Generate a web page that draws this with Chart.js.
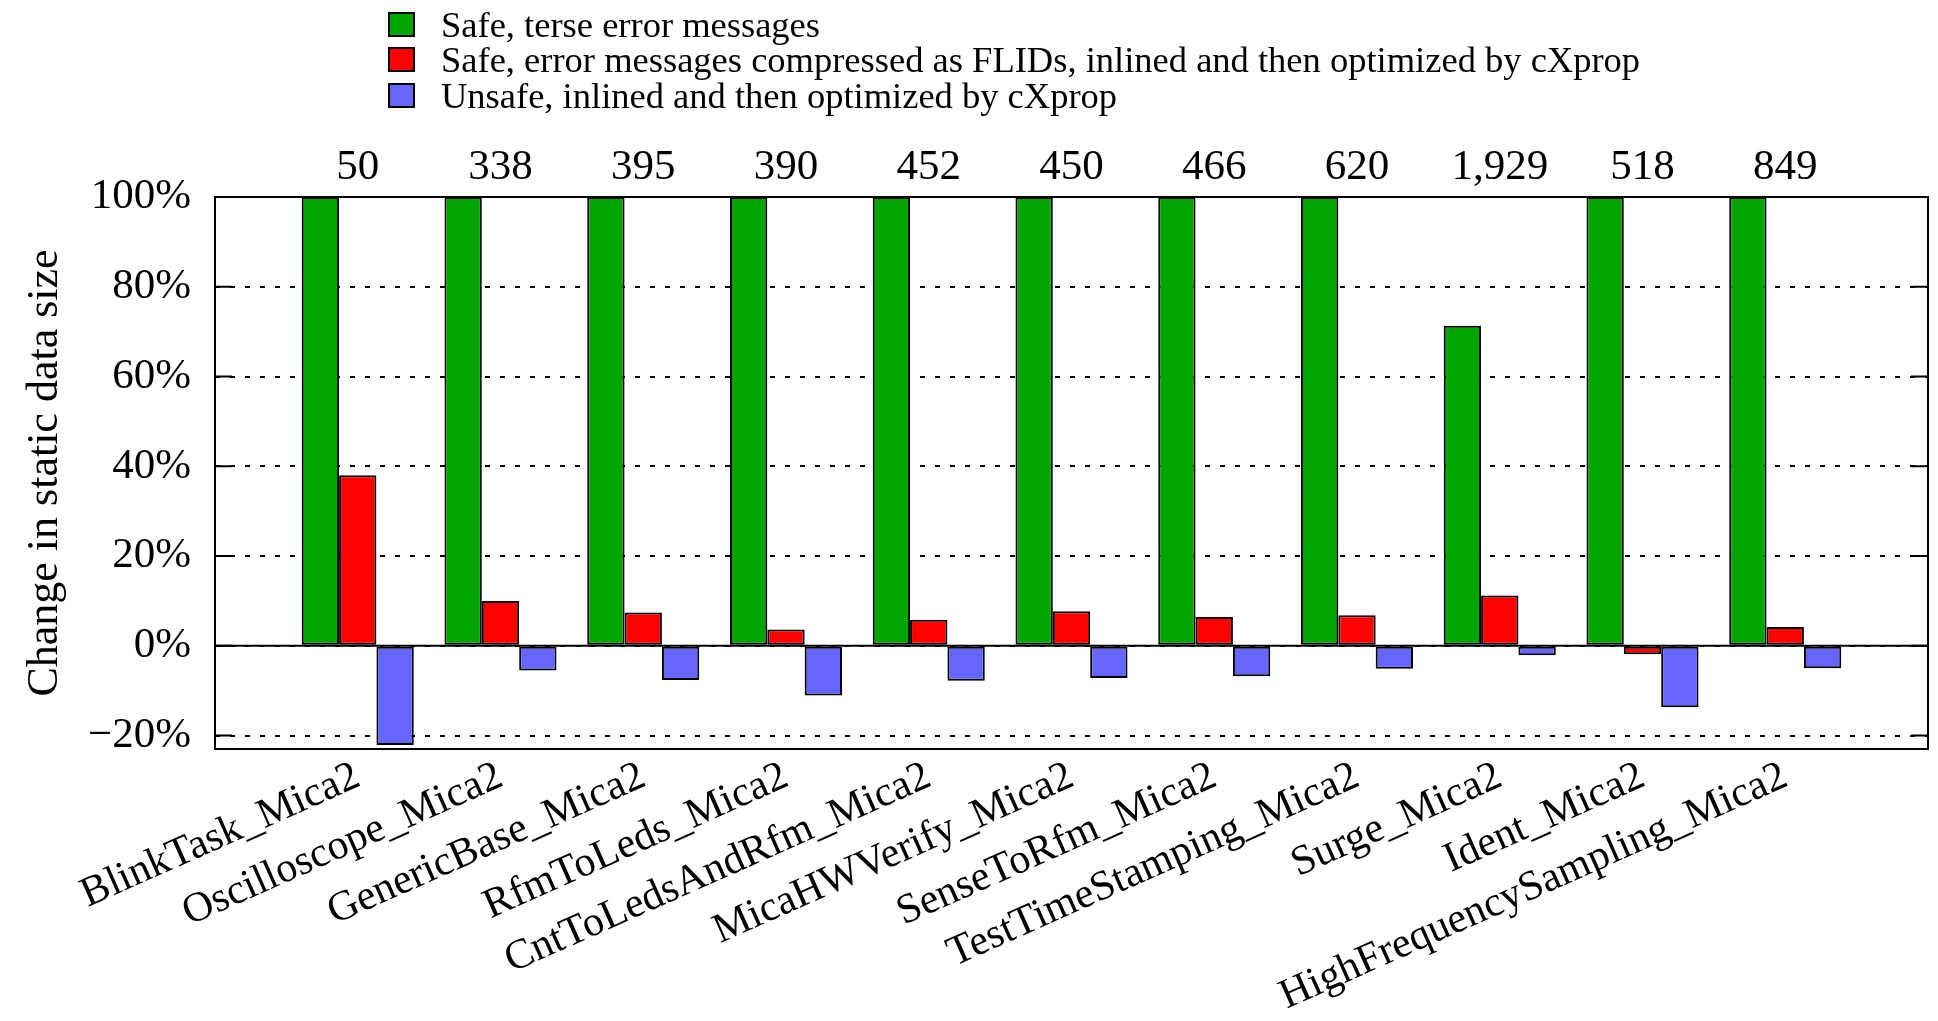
<!DOCTYPE html>
<html>
<head>
<meta charset="utf-8">
<title>Change in static data size</title>
<script src="https://cdn.jsdelivr.net/npm/chart.js@4.4.1/dist/chart.umd.min.js"></script>
<style>
    html, body { margin: 0; padding: 0; background: #fff; }
    .wrap { position: relative; width: 1938px; height: 1021px; }
    #legend {
        position: absolute; left: 388px; top: 7px;
        font-family: "Liberation Serif", "DejaVu Serif", serif;
        font-size: 36.5px; color: #000;
    }
    #legend .item { display: flex; align-items: center; height: 35.3px; white-space: nowrap; }
    #legend .box { width: 27px; height: 25px; border: 2px solid #000; box-sizing: border-box; margin-right: 26px; }
</style>
</head>
<body>
<div class="wrap">
    <canvas id="chart"></canvas>
    <div id="legend"></div>
</div>
<script>
// Data
const categories = ['BlinkTask_Mica2', 'Oscilloscope_Mica2', 'GenericBase_Mica2', 'RfmToLeds_Mica2',
    'CntToLedsAndRfm_Mica2', 'MicaHWVerify_Mica2', 'SenseToRfm_Mica2', 'TestTimeStamping_Mica2',
    'Surge_Mica2', 'Ident_Mica2', 'HighFrequencySampling_Mica2'];
const baseSizes = ['50', '338', '395', '390', '452', '450', '466', '620', '1,929', '518', '849'];
const safeTerse = [100, 100, 100, 100, 100, 100, 100, 100, 71.3, 100, 100];
const safeFlids = [38.0, 10.0, 7.4, 3.6, 5.8, 7.7, 6.4, 6.8, 11.2, -1.9, 4.2];
const unsafeCxprop = [-22.1, -5.5, -7.6, -11.1, -7.8, -7.2, -6.8, -5.1, -2.1, -13.7, -5.0];
const yTicks = [-20, 0, 20, 40, 60, 80, 100];

const seriesNames = [
    'Safe, terse error messages',
    'Safe, error messages compressed as FLIDs, inlined and then optimized by cXprop',
    'Unsafe, inlined and then optimized by cXprop'
];
const seriesColors = ['#00a500', '#ff0000', '#6666ff'];

// one empty slot on each side, like gnuplot's xrange [-1:11]
const pad = arr => [null, ...arr, null];
const FONT = '"Liberation Serif", "DejaVu Serif", serif';

Chart.defaults.font.family = FONT;
Chart.defaults.color = '#000';

// solid zero line, inner ticks and frame
const frame = {
    id: 'frame',
    beforeDatasetsDraw(chart) {
        const { ctx, chartArea: a, scales: { y } } = chart;
        const y0 = y.getPixelForValue(0);
        ctx.save();
        ctx.strokeStyle = '#000';
        ctx.lineWidth = 2;
        ctx.beginPath();
        ctx.moveTo(a.left, y0);
        ctx.lineTo(a.right, y0);
        ctx.stroke();
        ctx.restore();
    },
    afterDatasetsDraw(chart) {
        const { ctx, chartArea: a, scales: { y } } = chart;
        ctx.save();
        ctx.strokeStyle = '#000';
        ctx.lineWidth = 2;
        y.ticks.forEach(t => {
            const py = y.getPixelForValue(t.value);
            ctx.beginPath();
            ctx.moveTo(a.left, py);
            ctx.lineTo(a.left + 17, py);
            ctx.moveTo(a.right - 17, py);
            ctx.lineTo(a.right, py);
            ctx.stroke();
        });
        ctx.strokeRect(a.left, a.top, a.right - a.left, a.bottom - a.top);
        ctx.restore();
    }
};

const datasets = [safeTerse, safeFlids, unsafeCxprop].map((vals, i) => ({
    label: seriesNames[i],
    data: pad(vals),
    backgroundColor: seriesColors[i],
    borderColor: '#000',
    borderWidth: 2,
    borderSkipped: false,
    categoryPercentage: 0.785,
    barPercentage: 1.0
}));

const fixX = h => s => {
    s.height = h;
    s.paddingLeft = 0;
    s.paddingRight = 0;
};

const chart = new Chart(document.getElementById('chart'), {
    type: 'bar',
    data: { labels: pad(categories).map(c => c || ''), datasets },
    options: {
        responsive: true,
        maintainAspectRatio: false,
        animation: false,
        layout: { padding: { left: 0, right: 10, top: 0, bottom: 0 } },
        plugins: {
            legend: { display: false },
            tooltip: { enabled: false }
        },
        scales: {
            x: {
                type: 'category',
                position: 'bottom',
                offset: false,
                grid: { display: false },
                border: { display: false },
                ticks: {
                    autoSkip: false,
                    minRotation: 24,
                    maxRotation: 24,
                    padding: 12,
                    font: { size: 42, lineHeight: 0.3 }
                },
                afterFit: fixX(272)
            },
            x2: {
                type: 'category',
                position: 'top',
                labels: pad(baseSizes).map(c => c || ''),
                offset: false,
                grid: { display: false },
                border: { display: false },
                ticks: { autoSkip: false, maxRotation: 0, padding: 0, font: { size: 43, lineHeight: 1.0 } },
                afterFit: fixX(197)
            },
            y: {
                min: -23,
                max: 100,
                afterBuildTicks: s => { s.ticks = yTicks.map(v => ({ value: v })); },
                grid: { color: '#000', lineWidth: 2, drawTicks: false },
                border: { display: false, dash: [5, 10] },
                ticks: {
                    padding: 24,
                    font: { size: 43 },
                    callback: v => (v < 0 ? '\u2212' : '') + Math.abs(v) + '%'
                },
                title: {
                    display: true,
                    text: 'Change in static data size',
                    font: { size: 44 },
                    padding: { top: 19, bottom: 0 }
                },
                afterFit: s => { s.width = 215; }
            }
        }
    },
    plugins: [frame]
});

// legend, built from the chart's datasets
const legendEl = document.getElementById('legend');
chart.data.datasets.forEach(ds => {
    const item = document.createElement('div');
    item.className = 'item';
    const box = document.createElement('span');
    box.className = 'box';
    box.style.background = ds.backgroundColor;
    const txt = document.createElement('span');
    txt.textContent = ds.label;
    item.appendChild(box);
    item.appendChild(txt);
    legendEl.appendChild(item);
});
</script>
</body>
</html>
